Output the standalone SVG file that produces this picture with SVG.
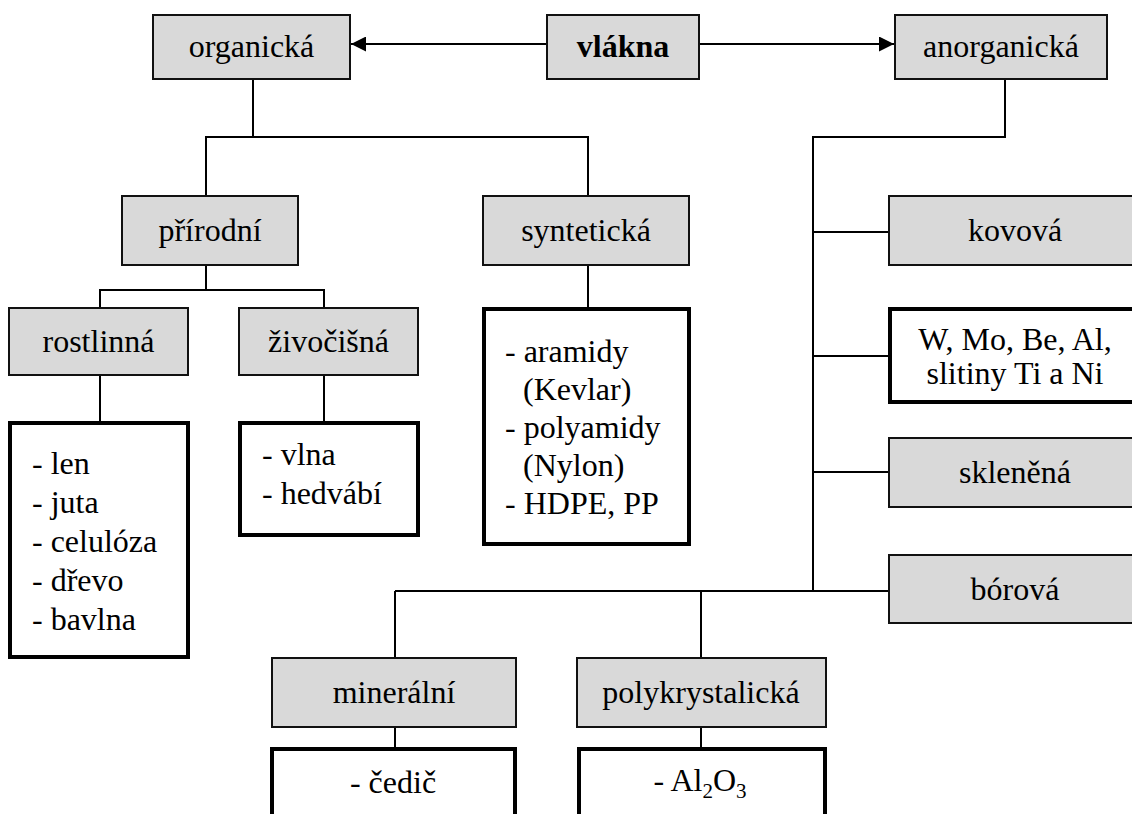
<svg xmlns="http://www.w3.org/2000/svg" width="1132" height="814" viewBox="0 0 1132 814">
<defs>
<style>
.box{fill:#d9d9d9;stroke:#111;stroke-width:2}
.list{fill:#fff;stroke:#000;stroke-width:4}
.t{font-family:"Liberation Serif","Times New Roman",serif;font-size:32px;fill:#000}
.c{text-anchor:middle}
.b{font-weight:bold}
.ln{fill:none;stroke:#000;stroke-width:2}
</style>
<marker id="arr" viewBox="0 0 15 15" refX="15" refY="7.5" markerWidth="15" markerHeight="15" markerUnits="userSpaceOnUse" orient="auto">
<path d="M0,0 L15,7.5 L0,15 Z" fill="#000"/>
</marker>
</defs>
<rect width="1132" height="814" fill="#fff"/>

<g id="connectors">
<line class="ln" x1="547" y1="44" x2="351" y2="44" marker-end="url(#arr)"/>
<line class="ln" x1="699" y1="44" x2="894" y2="44" marker-end="url(#arr)"/>
<polyline class="ln" points="253,79 253,137"/>
<polyline class="ln" points="206,196 206,137 588,137 588,196"/>
<polyline class="ln" points="206,265 206,290"/>
<polyline class="ln" points="100,308 100,290 324,290 324,308"/>
<line class="ln" x1="100" y1="375" x2="100" y2="421"/>
<line class="ln" x1="324" y1="375" x2="324" y2="421"/>
<line class="ln" x1="588" y1="265" x2="588" y2="308"/>
<polyline class="ln" points="1005,79 1005,137 813,137 813,591"/>
<line class="ln" x1="813" y1="232" x2="889" y2="232"/>
<line class="ln" x1="813" y1="356" x2="889" y2="356"/>
<line class="ln" x1="813" y1="472" x2="889" y2="472"/>
<line class="ln" x1="889" y1="591" x2="395" y2="591"/>
<line class="ln" x1="395" y1="591" x2="395" y2="658"/>
<line class="ln" x1="701" y1="591" x2="701" y2="658"/>
<line class="ln" x1="395" y1="727" x2="395" y2="748"/>
<line class="ln" x1="701" y1="727" x2="701" y2="748"/>
</g>

<g id="organicka">
<rect class="box" x="153" y="15" width="197" height="64"/>
<text class="t c" x="251.5" y="57">organická</text>
</g>
<g id="vlakna">
<rect class="box" x="547" y="15" width="152" height="64"/>
<text class="t c b" x="623" y="57">vlákna</text>
</g>
<g id="anorganicka">
<rect class="box" x="895" y="15" width="212" height="64"/>
<text class="t c" x="1001" y="57">anorganická</text>
</g>

<g id="prirodni">
<rect class="box" x="122" y="196" width="176" height="69"/>
<text class="t c" x="210" y="241">přírodní</text>
</g>
<g id="synteticka">
<rect class="box" x="483" y="196" width="206" height="69"/>
<text class="t c" x="586" y="241">syntetická</text>
</g>
<g id="rostlinna">
<rect class="box" x="9" y="308" width="179" height="67"/>
<text class="t c" x="98.5" y="352">rostlinná</text>
</g>
<g id="zivocisna">
<rect class="box" x="239" y="308" width="179" height="67"/>
<text class="t c" x="328.5" y="352">živočišná</text>
</g>

<g id="rostlinna-list">
<rect class="list" x="10" y="423" width="178" height="234"/>
<text class="t" x="32" y="474">- len</text>
<text class="t" x="32" y="513">- juta</text>
<text class="t" x="32" y="552">- celulóza</text>
<text class="t" x="32" y="591">- dřevo</text>
<text class="t" x="32" y="630">- bavlna</text>
</g>
<g id="zivocisna-list">
<rect class="list" x="240" y="423" width="178" height="112"/>
<text class="t" x="262" y="465">- vlna</text>
<text class="t" x="262" y="504">- hedvábí</text>
</g>
<g id="synteticka-list">
<rect class="list" x="484" y="309" width="205" height="235"/>
<text class="t" x="505" y="362">- aramidy</text>
<text class="t" x="523" y="400">(Kevlar)</text>
<text class="t" x="505" y="438">- polyamidy</text>
<text class="t" x="523" y="476">(Nylon)</text>
<text class="t" x="505" y="514">- HDPE, PP</text>
</g>

<g id="kovova">
<rect class="box" x="889" y="196" width="260" height="69"/>
<text class="t c" x="1015" y="241">kovová</text>
</g>
<g id="kovy-list">
<rect class="list" x="890" y="309" width="260" height="93"/>
<text class="t c" x="1015" y="350">W, Mo, Be, Al,</text>
<text class="t c" x="1015" y="384">slitiny Ti a Ni</text>
</g>
<g id="sklenena">
<rect class="box" x="889" y="438" width="260" height="69"/>
<text class="t c" x="1015" y="483">skleněná</text>
</g>
<g id="borova">
<rect class="box" x="889" y="555" width="260" height="68"/>
<text class="t c" x="1015" y="600">bórová</text>
</g>

<g id="mineralni">
<rect class="box" x="272" y="658" width="244" height="69"/>
<text class="t c" x="394" y="703">minerální</text>
</g>
<g id="polykrystalicka">
<rect class="box" x="577" y="658" width="249" height="69"/>
<text class="t c" x="701" y="703">polykrystalická</text>
</g>
<g id="mineralni-list">
<rect class="list" x="272" y="749" width="243" height="90"/>
<text class="t c" x="393" y="793">- čedič</text>
</g>
<g id="polykrystalicka-list">
<rect class="list" x="579" y="749" width="246" height="90"/>
<text class="t c" x="700" y="791">- Al<tspan font-size="21" dy="7">2</tspan><tspan dy="-7">O</tspan><tspan font-size="21" dy="7">3</tspan></text>
</g>
</svg>
